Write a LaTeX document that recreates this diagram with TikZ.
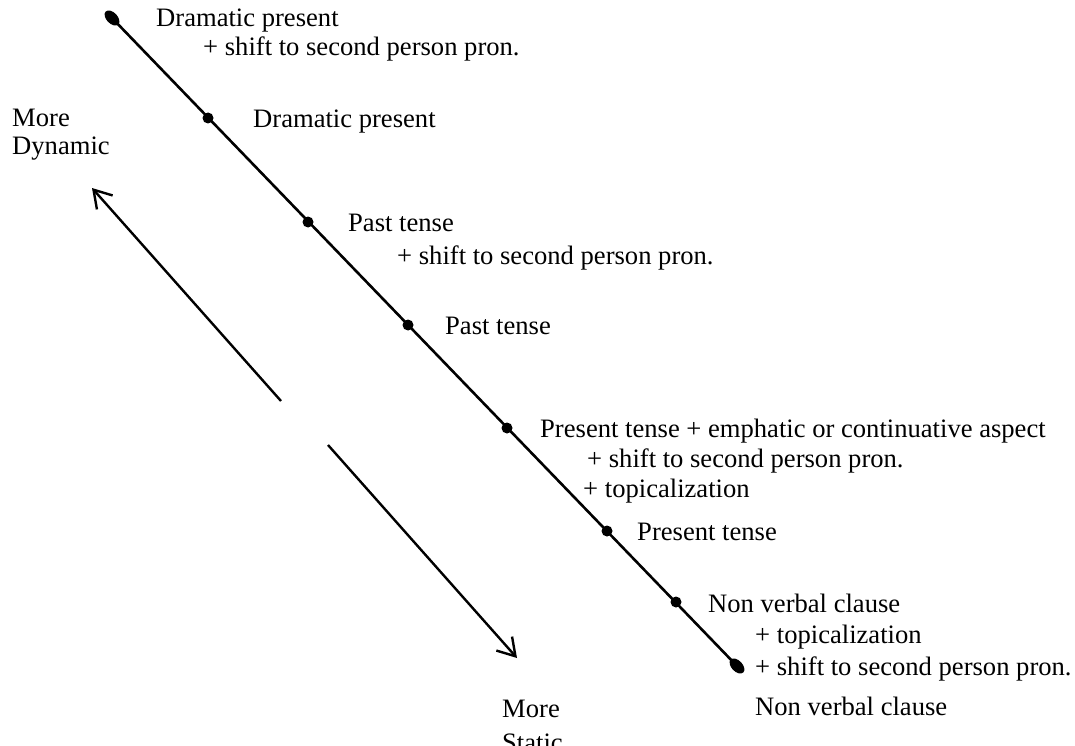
\documentclass[tikz,border=0pt]{standalone}
\usepackage{fontspec}
\setmainfont{Liberation Serif}
\usetikzlibrary{shapes.geometric,arrows.meta}
\begin{document}
\begin{tikzpicture}[x=1pt,y=-1pt,
  lbl/.style={anchor=base west,inner sep=0pt,font=\fontsize{26.6}{30}\selectfont},
  dotnode/.style={circle,fill=black,inner sep=0pt,minimum size=11pt},
  endnode/.style={ellipse,fill=black,inner sep=0pt,minimum width=18pt,minimum height=11pt,rotate=-46},
  mainline/.style={line width=2.6pt},
  dirarrow/.style={line width=2.4pt,-{Straight Barb[length=17pt,width=21pt,line width=2.4pt]}}]
\useasboundingbox (0,0) rectangle (1075,746);
% end points and dots
\node[endnode] (top) at (112,18) {};
\node[endnode] (bot) at (737,666) {};
\draw[mainline] (top.center) -- (bot.center);
\node[dotnode] (d1) at (208,118) {};
\node[dotnode] (d2) at (308,222) {};
\node[dotnode] (d3) at (408,325) {};
\node[dotnode] (d4) at (507,428) {};
\node[dotnode] (d5) at (607,531) {};
\node[dotnode] (d6) at (676,602) {};
% labels
\node[lbl] (t1a) at (156,27) {Dramatic present};
\node[lbl] (t1b) at (203,56) {+ shift to second person pron.};
\node[lbl] (t2) at (253,128) {Dramatic present};
\node[lbl] (t3a) at (348,231) {Past tense};
\node[lbl] (t3b) at (397,264) {+ shift to second person pron.};
\node[lbl] (t4) at (445,334) {Past tense};
\node[lbl] (t5a) at (540,437) {Present tense + emphatic or continuative aspect};
\node[lbl] (t5b) at (587,467) {+ shift to second person pron.};
\node[lbl] (t5c) at (583,497) {+ topicalization};
\node[lbl] (t6) at (637,540) {Present tense};
\node[lbl] (t7a) at (708,612) {Non verbal clause};
\node[lbl] (t7b) at (755,643) {+ topicalization};
\node[lbl] (t7c) at (755,675) {+ shift to second person pron.};
\node[lbl] (t8) at (755,715) {Non verbal clause};
% direction labels
\node[lbl] (dyn1) at (12,127) {More};
\node[lbl] (dyn2) at (12,155) {Dynamic};
\node[lbl] (sta1) at (502,717) {More};
\node[lbl] (sta2) at (502,751) {Static};
% direction arrows
\coordinate (a1s) at (281,401);
\coordinate (a1e) at (92,188);
\coordinate (a2s) at (328,445);
\coordinate (a2e) at (517,658);
\draw[dirarrow] (a1s) -- (a1e);
\draw[dirarrow] (a2s) -- (a2e);
\end{tikzpicture}
\end{document}
